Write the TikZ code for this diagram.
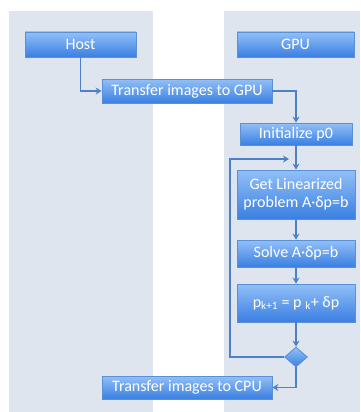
\documentclass[tikz,border=0pt]{standalone}
\usepackage{fontspec}
\setmainfont{Carlito}
\usetikzlibrary{shapes.geometric,arrows.meta,shadows}
\definecolor{lane}{HTML}{DFE5EF}
\definecolor{boxtop}{HTML}{92C0F8}
\definecolor{boxbot}{HTML}{3A7FE2}
\definecolor{boxline}{HTML}{5B8FD6}
\definecolor{conn}{HTML}{4D80C6}
\tikzset{
  lanebox/.style={fill=lane,draw=none},
  flowbox/.style={rectangle,top color=boxtop,bottom color=boxbot,draw=boxline,line width=0.8pt,
    text=white,font=\fontsize{16}{18}\selectfont,align=center,inner sep=0pt,
    drop shadow={shadow xshift=1pt,shadow yshift=-1pt,opacity=0.25}},
  decision/.style={diamond,top color=boxtop,bottom color=boxbot,draw=boxline,line width=0.8pt,
    inner sep=0pt,minimum width=23pt,minimum height=20pt},
  conn/.style={draw=conn,line width=1.5pt,-{Stealth[length=6pt,width=7pt]}}
}
\begin{document}
\begin{tikzpicture}[x=1pt,y=-1pt]
\useasboundingbox (0,0) rectangle (360,412);
\fill[white] (0,0) rectangle (360,412);
\fill[lanebox] (9,11) rectangle (153,412);
\fill[lanebox] (224,11) rectangle (360,412);

\node[flowbox,minimum width=111pt,minimum height=25pt] (host) at (80.5,44.5) {Host};
\node[flowbox,minimum width=117pt,minimum height=25pt] (gpu) at (295.5,44.5) {GPU};
\node[flowbox,minimum width=170pt,minimum height=24pt] (tgpu) at (187,91) {Transfer images to GPU};
\node[flowbox,minimum width=112pt,minimum height=22pt] (init) at (296,134) {Initialize p0};
\node[flowbox,minimum width=118pt,minimum height=49pt] (lin) at (296,194.5) {Get Linearized\\problem A·δp=b};
\node[flowbox,minimum width=118pt,minimum height=27pt] (solve) at (296,253.5) {Solve A·δp=b};
\node[flowbox,minimum width=118pt,minimum height=38pt] (upd) at (296,303) {p\textsubscript{k+1} = p \textsubscript{k}+ δp};
\node[decision] (dec) at (296,357) {};
\node[flowbox,minimum width=170pt,minimum height=23pt] (tcpu) at (187,387.5) {Transfer images to CPU};

\coordinate (loopc) at (230,159);
\coordinate (loopend) at (289,159);

\draw[conn] (host.south) |- (tgpu.west);
\draw[conn] (tgpu.east) -| (init.north);
\draw[conn] (init.south) -- (lin.north);
\draw[conn] (lin.south) -- (solve.north);
\draw[conn] (solve.south) -- (upd.north);
\draw[conn] (upd.south) -- (dec.north);
\draw[conn] (dec.west) -| (loopc) -- (loopend);
\draw[conn] (dec.south) |- (tcpu.east);
\end{tikzpicture}
\end{document}
